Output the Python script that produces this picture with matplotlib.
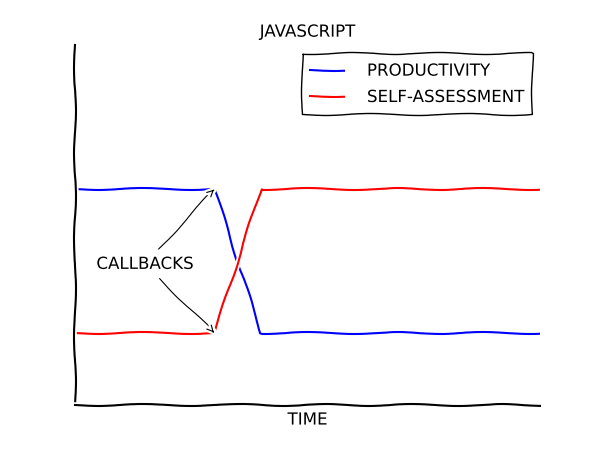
import numpy as np
import matplotlib.pyplot as plt

# chart data
time = [0, 3, 4, 10]
productivity = [1, 1, 0, 0]
self_assessment = [0, 0, 1, 1]
callback_points = [(3, 1), (3, 0)]

plt.xkcd()
plt.rcParams['font.family'] = ['DejaVu Sans']

fig = plt.figure(figsize=(6, 4.5), dpi=100)
ax = fig.add_axes([0.125, 0.1, 0.775, 0.8])

ax.plot(time, productivity, color='blue', lw=1.5, label='PRODUCTIVITY')
ax.plot(time, self_assessment, color='red', lw=1.5, label='SELF-ASSESSMENT')

for pt in callback_points:
    ax.annotate('CALLBACKS', xy=pt, xytext=(1.5, 0.48),
                ha='center', va='center', fontsize=12,
                arrowprops=dict(arrowstyle='->', color='black', lw=0.8,
                                shrinkA=3, shrinkB=0))

ax.set_xlim(0, 10)
ax.set_ylim(-0.5, 2)
ax.set_xticks([])
ax.set_yticks([])
ax.spines['top'].set_visible(False)
ax.spines['right'].set_visible(False)

ax.set_title('JAVASCRIPT', fontsize=12)
ax.set_xlabel('TIME', fontsize=12)
ax.legend(loc='upper right', fontsize=12, fancybox=False, edgecolor='black',
          framealpha=1, handletextpad=1.4, borderpad=0.5)

fig.savefig('out.png', dpi=100)
